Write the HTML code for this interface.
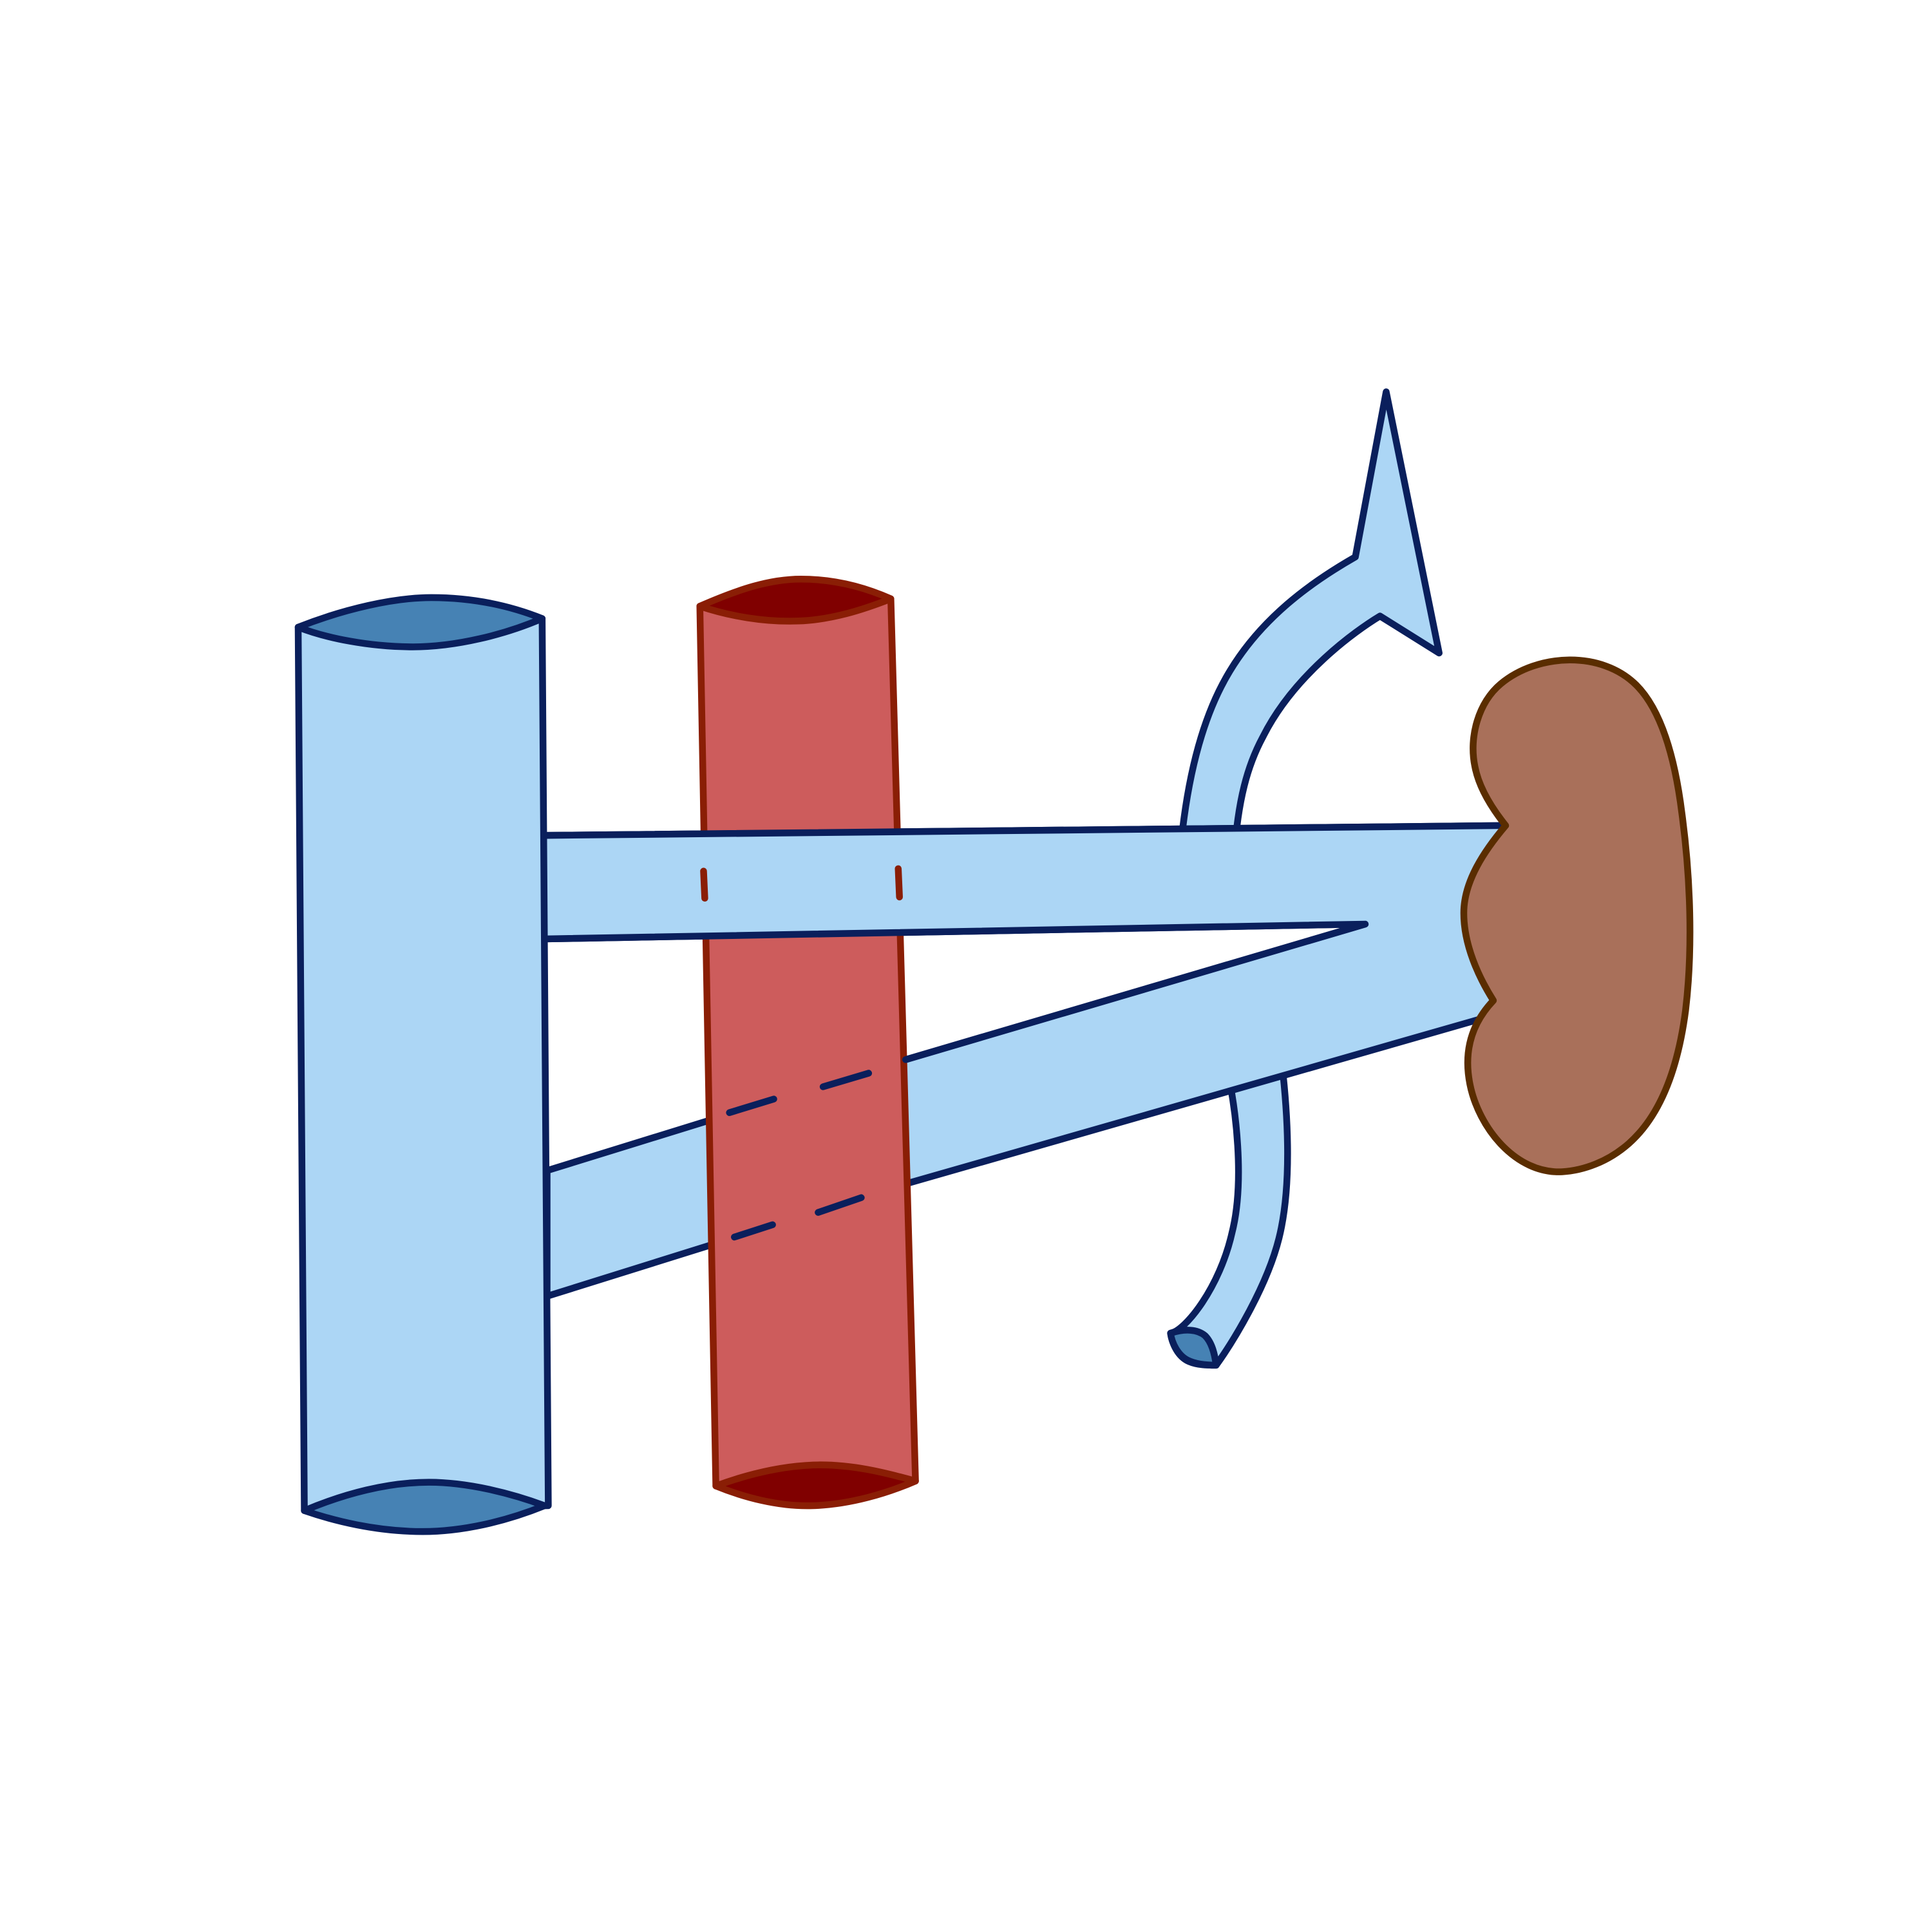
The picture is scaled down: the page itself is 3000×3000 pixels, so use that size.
<!DOCTYPE html>
<html>
<head>
<meta charset="utf-8">
<style>
html,body{margin:0;padding:0;background:#fff;}
svg{display:block;}
</style>
</head>
<body>
<svg width="3000" height="3000" viewBox="0 0 1568 1568" xmlns="http://www.w3.org/2000/svg">
<g stroke-linejoin="round" stroke-linecap="round" stroke-width="5.5">
<path d="M958,690 C964,625 978,580 995,550 C1022,502 1065,472 1100,452 L1125,318 L1168,530 L1120,500 C1100,512 1050,548 1025,598 C1012,622 1005,650 1002,690 Z" fill="#acd6f5" stroke="#0a1f5c"/>
<path d="M994,860 C1004,900 1010,960 1000,1000 C990,1045 962,1080 950,1082 C952,1094 958,1102 965,1105 C972,1108 980,1108 987,1108 C1000,1090 1028,1045 1038,1005 C1048,965 1046,910 1040,860 Z" fill="#acd6f5" stroke="#0a1f5c"/>
<path d="M950,1082 C962,1078 972,1079 978,1084 C984,1090 986,1100 987,1108 C978,1108 970,1107 964,1104 C956,1100 951,1090 950,1082 Z" fill="#4682b4" stroke="#0a1f5c"/>
<path d="M444,678 L1222,670 L1225,830 L1212,824 L738,960 L444,1052 L444,950 L735,860 L1108,750 L444,762 Z" fill="#acd6f5" stroke="#0a1f5c"/>
<path d="M568,492 L723,486 L743,1202 L581,1206 Z" fill="#cd5c5c" stroke="#8a1e05"/>
<path d="M568,492 C600,478 625,470 650,470 C680,470 705,478 723,486 C700,495 675,503 648,504 C620,505 592,500 568,492 Z" fill="#800000" stroke="#8a1e05"/>
<path d="M581,1206 C608,1196 635,1190 660,1189 C690,1188 718,1195 743,1202 C720,1212 690,1221 660,1222 C632,1223 603,1215 581,1206 Z" fill="#800000" stroke="#8a1e05"/>
<g stroke="#0a1f5c">
<line x1="592" y1="903" x2="628" y2="892"/>
<line x1="668" y1="882" x2="705" y2="871"/>
<line x1="596" y1="1004" x2="627" y2="994"/>
<line x1="664" y1="984" x2="699" y2="972"/>
</g>
<path d="M444,678 L1222,670 L1222,752 L1108,750 L444,762 Z" fill="#acd6f5" stroke="none"/>
<path d="M444,678 L1222,670" fill="none" stroke="#0a1f5c"/>
<path d="M444,762 L1108,750 L735,860" fill="none" stroke="#0a1f5c"/>
<g stroke="#8a1e05">
<line x1="571" y1="707" x2="572" y2="729"/>
<line x1="729" y1="705" x2="730" y2="728"/>
</g>
<path d="M242,509 L440,502 L445,1222 L247,1226 Z" fill="#acd6f5" stroke="#0a1f5c"/>
<path d="M242,509 C280,494 320,485 350,485 C390,485 420,494 440,502 C410,515 370,525 335,525 C300,525 265,518 242,509 Z" fill="#4682b4" stroke="#0a1f5c"/>
<path d="M247,1226 C280,1212 315,1203 348,1203 C380,1203 415,1212 442,1222 C410,1235 375,1243 343,1243 C305,1243 270,1234 247,1226 Z" fill="#4682b4" stroke="#0a1f5c"/>
<path d="M1222,670 C1210,655 1200,638 1197,622 C1192,598 1200,570 1218,555 C1248,530 1300,528 1328,556 C1350,578 1360,620 1365,660 C1372,712 1374,770 1368,820 C1362,866 1348,905 1322,928 C1305,943 1285,950 1268,951 C1230,953 1200,915 1193,880 C1188,855 1193,832 1212,812 C1200,793 1188,767 1188,741 C1188,715 1205,690 1222,670 Z" fill="#a9705a" stroke="#5a2d00"/>
</g>
</svg>
</body>
</html>
